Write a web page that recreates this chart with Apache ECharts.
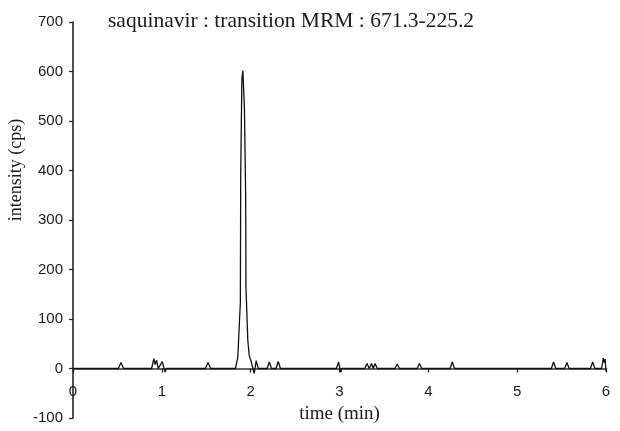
<!DOCTYPE html>
<html>
<head>
<meta charset="utf-8">
<script src="https://cdn.jsdelivr.net/npm/echarts@6/dist/echarts.min.js"></script>
<style>html,body{margin:0;padding:0;background:#fff}#c{width:620px;height:431px}</style>
</head>
<body>
<div id="c"></div>
<script>
var titleText = 'saquinavir : transition MRM : 671.3-225.2';
var xName = 'time (min)';
var yName = 'intensity (cps)';
var xTicks = [0, 1, 2, 3, 4, 5, 6];
var yTicks = [-100, 0, 100, 200, 300, 400, 500, 600, 700];

var times = [0, 0.51, 0.54, 0.57, 0.885, 0.91, 0.925, 0.94, 0.96, 0.98, 1.005, 1.025, 1.04, 1.05,
  1.49, 1.52, 1.55, 1.828, 1.855, 1.872, 1.884, 1.888, 1.901, 1.912, 1.93, 1.944, 1.947, 1.968,
  1.985, 2.008, 2.025, 2.04, 2.062, 2.085, 2.185, 2.21, 2.235, 2.285, 2.31, 2.335, 2.965, 2.99,
  3.005, 3.015, 3.025, 3.285, 3.31, 3.335, 3.36, 3.38, 3.40, 3.425, 3.625, 3.65, 3.675, 3.875,
  3.90, 3.925, 4.245, 4.27, 4.295, 5.385, 5.41, 5.435, 5.535, 5.56, 5.585, 5.825, 5.85, 5.875,
  5.95, 5.97, 5.98, 5.99, 6.0];
var intensity = [0, 0, 12, 0, 0, 20, 8, 17, 0, 0, 14, 0, -7, 0,
  0, 12, 0, 0, 22, 24, 134, 390, 585, 602, 525, 343, 164, 56,
  25, 13, 0, -10, 16, 0, 0, 13, 0, 0, 14, 0, 0, 13,
  0, -7, 0, 0, 10, 0, 10, 0, 10, 0, 0, 9, 0, 0,
  10, 0, 0, 13, 0, 0, 13, 0, 0, 12, 0, 0, 13, 0,
  0, 21, 12, 19, -6];

var data = times.map(function (t, i) { return [t, intensity[i]]; });

var gridTop = 22, gridBottom = 13, H = 431;
var plotH = H - gridTop - gridBottom;
var yMin = yTicks[0], yMax = yTicks[yTicks.length - 1];
// distance from grid bottom (value yMin) up to the zero line
var zeroOffset = -plotH * (0 - yMin) / (yMax - yMin);

var chart = echarts.init(document.getElementById('c'), null, {renderer: 'canvas'});
chart.setOption({
  animation: false,
  backgroundColor: '#fff',
  title: {
    text: titleText, left: 108, top: 10, padding: 0,
    textStyle: {fontFamily: 'Liberation Serif', fontSize: 21.5, fontWeight: 'normal', color: '#1a1a1a'}
  },
  grid: {left: 73, right: 14, top: gridTop, bottom: gridBottom, containLabel: false, outerBoundsMode: 'none'},
  graphic: [{
    type: 'text', x: 16, y: 170, rotation: Math.PI / 2,
    style: {text: yName, font: '18px "Liberation Serif"', fill: '#1a1a1a', align: 'center', verticalAlign: 'middle'}
  }],
  xAxis: {
    type: 'value', min: xTicks[0], max: xTicks[xTicks.length - 1], interval: 1,
    offset: zeroOffset,
    name: xName, nameLocation: 'middle', nameGap: 35,
    nameTextStyle: {fontFamily: 'Liberation Serif', fontSize: 19, color: '#1a1a1a'},
    axisLine: {onZero: false, lineStyle: {color: '#333', width: 1.6}},
    axisTick: {show: true, length: 4, lineStyle: {color: '#222', width: 1.3}},
    axisLabel: {margin: 16, fontFamily: 'Liberation Sans', fontSize: 15, color: '#1a1a1a'},
    splitLine: {show: false}
  },
  yAxis: {
    type: 'value', min: yMin, max: yMax, interval: 100,
    axisLine: {show: true, onZero: false, lineStyle: {color: '#222', width: 1.6}},
    axisTick: {show: true, length: 4, lineStyle: {color: '#222', width: 1.3}},
    axisLabel: {margin: 10, fontFamily: 'Liberation Sans', fontSize: 15, color: '#1a1a1a'},
    splitLine: {show: false}
  },
  series: [{
    type: 'line', data: data, showSymbol: false, symbol: 'none',
    lineStyle: {color: '#111', width: 1.3}, z: 3
  }]
});
</script>
</body>
</html>
